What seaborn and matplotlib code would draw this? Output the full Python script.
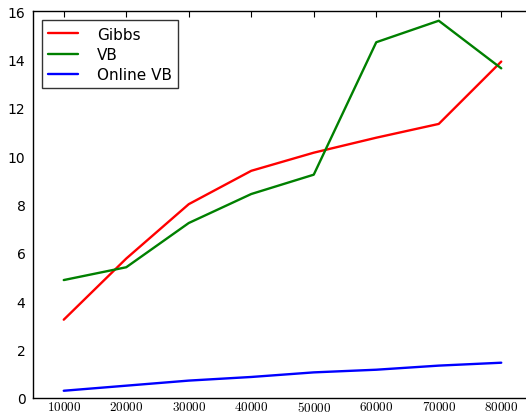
import matplotlib
matplotlib.use('Agg')
import matplotlib.pyplot as plt
import seaborn as sns
import pandas as pd

# данные
sizes = [10000, 20000, 30000, 40000, 50000, 60000, 70000, 80000]
gibbs = [3.24, 5.77, 8.02, 9.40, 10.15, 10.77, 11.34, 13.92]
vb = [4.88, 5.41, 7.24, 8.44, 9.24, 14.72, 15.61, 13.64]
online_vb = [0.30, 0.51, 0.72, 0.87, 1.06, 1.17, 1.34, 1.46]

methods = ['Gibbs', 'VB', 'Online VB']
colors = ['#ff0000', '#008000', '#0000ff']

rows = []
for name, vals in zip(methods, [gibbs, vb, online_vb]):
    for s, v in zip(sizes, vals):
        rows.append({'size': s, 'time': v, 'method': name})
df = pd.DataFrame(rows)

sns.set_style('white')
plt.rcParams['font.family'] = ['DejaVu Sans']
plt.rcParams['mathtext.fontset'] = 'cm'
plt.rcParams['text.color'] = 'black'
plt.rcParams['xtick.color'] = 'black'
plt.rcParams['ytick.color'] = 'black'

fig = plt.figure(figsize=(5.26, 4.14), dpi=100)
# правая граница осей выходит за край картинки, как в оригинале
ax = fig.add_axes([32.5 / 526, 15 / 414, 500 / 526, 386.7 / 414])

sns.lineplot(data=df, x='size', y='time', hue='method', hue_order=methods,
             palette=colors, linewidth=1.7, ax=ax, legend=True)

ax.set_xlim(5000, 85000)
ax.set_ylim(0, 16)
ax.set_xticks(sizes)
ax.set_xticklabels(['$%d$' % s for s in sizes], fontsize=9.5)
ax.set_yticks(range(0, 17, 2))
ax.set_yticklabels([str(v) for v in range(0, 17, 2)], fontsize=10)
ax.set_xlabel('')
ax.set_ylabel('')
ax.tick_params(direction='in', length=4, width=0.8, color='black',
               labelcolor='black', top=True, right=True)
ax.tick_params(axis='x', pad=1.5)
ax.tick_params(axis='y', pad=5)
for sp in ax.spines.values():
    sp.set_color('black')
    sp.set_linewidth(1.0)

leg = ax.legend(loc='upper left', fontsize=11, frameon=True, fancybox=False,
                borderaxespad=0.6, handlelength=2.0, borderpad=0.4,
                labelspacing=0.35, handletextpad=1.2)
leg.get_frame().set_edgecolor('black')
leg.get_frame().set_linewidth(1.0)

fig.savefig('out.png', dpi=100)
